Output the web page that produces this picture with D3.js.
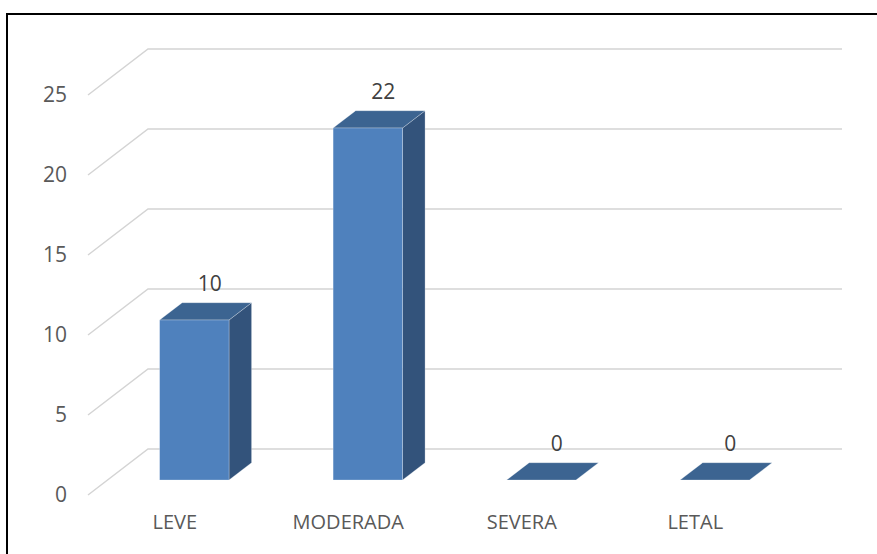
<!DOCTYPE html>
<html>
<head>
<meta charset="utf-8">
<script src="https://cdn.jsdelivr.net/npm/d3@7"></script>
<style>
  body { margin: 0; background: #fff; }
  text { font-family: "Open Sans", sans-serif; }
</style>
</head>
<body>
<div id="chart"></div>
<script>
// data
const categories = ["LEVE", "MODERADA", "SEVERA", "LETAL"];
const values = [10, 22, 0, 0];
const yTicks = [0, 5, 10, 15, 20, 25];

const width = 877, height = 554;
const depthX = 60, depthY = -46;   // full floor depth offset
const t0 = 0.326, t1 = 0.702;      // bar front / back inside depth

const svg = d3.select("#chart")
  .append("svg")
  .attr("width", width)
  .attr("height", height);

// frame
svg.append("path")
  .attr("d", "M7,554 V14 H877")
  .attr("fill", "none")
  .attr("stroke", "#000")
  .attr("stroke-width", 2);

const xScale = d3.scaleBand()
  .domain(categories)
  .range([88, 782])
  .padding(0);

const yScale = d3.scaleLinear()
  .domain([0, 25])
  .range([495, 95]);

// gridlines: diagonal on the floor side + back wall line
const grid = svg.append("g");
yTicks.forEach(v => {
  const y = yScale(v);
  grid.append("path")
    .attr("d", `M88,${y} L${88 + depthX},${y + depthY} L${782 + depthX},${y + depthY}`)
    .attr("fill", "none")
    .attr("stroke", "#d4d4d4")
    .attr("stroke-width", 1.5);
});

// y tick labels
svg.selectAll(".ytick")
  .data(yTicks)
  .join("text")
  .attr("class", "ytick")
  .attr("x", 67)
  .attr("y", d => yScale(d) + 1)
  .attr("text-anchor", "end")
  .attr("dominant-baseline", "middle")
  .attr("font-size", 21)
  .attr("fill", "#595959")
  .text(d => d);

const data = categories.map((c, i) => ({ cat: c, value: values[i] }));
const barW = xScale.bandwidth() * 0.4;
const dx0 = depthX * t0, dy0 = depthY * t0;
const dx1 = depthX * t1, dy1 = depthY * t1;

const bars = svg.selectAll(".bar")
  .data(data)
  .join("g")
  .attr("class", "bar");

const xl = d => xScale(d.cat) + (xScale.bandwidth() - barW) / 2;
const xr = d => xl(d) + barW;

// side face
bars.append("path")
  .attr("d", d => {
    const yv = yScale(d.value), y0 = yScale(0);
    return `M${xr(d) + dx0},${yv + dy0} L${xr(d) + dx1},${yv + dy1} L${xr(d) + dx1},${y0 + dy1} L${xr(d) + dx0},${y0 + dy0}Z`;
  })
  .attr("fill", "#33537b")
  .attr("stroke", "rgba(255,255,255,0.35)")
  .attr("stroke-width", 0.75);

// top face
bars.append("path")
  .attr("d", d => {
    const yv = yScale(d.value);
    return `M${xl(d) + dx0},${yv + dy0} L${xr(d) + dx0},${yv + dy0} L${xr(d) + dx1},${yv + dy1} L${xl(d) + dx1},${yv + dy1}Z`;
  })
  .attr("fill", "#3c6491")
  .attr("stroke", "rgba(255,255,255,0.35)")
  .attr("stroke-width", 0.75);

// front face
bars.append("rect")
  .attr("x", d => xl(d) + dx0)
  .attr("y", d => yScale(d.value) + dy0)
  .attr("width", barW)
  .attr("height", d => yScale(0) - yScale(d.value))
  .attr("fill", "#4f81bd")
  .attr("stroke", "rgba(255,255,255,0.35)")
  .attr("stroke-width", 0.75);

// value labels
svg.selectAll(".vlabel")
  .data(data)
  .join("text")
  .attr("class", "vlabel")
  .attr("x", d => xScale(d.cat) + xScale.bandwidth() / 2 + 35)
  .attr("y", d => yScale(d.value) + dy1 - 17)
  .attr("text-anchor", "middle")
  .attr("dominant-baseline", "middle")
  .attr("font-size", 21)
  .attr("fill", "#404040")
  .text(d => d.value);

// category labels
svg.selectAll(".xlabel")
  .data(categories)
  .join("text")
  .attr("class", "xlabel")
  .attr("x", d => xScale(d) + xScale.bandwidth() / 2)
  .attr("y", 524)
  .attr("text-anchor", "middle")
  .attr("dominant-baseline", "middle")
  .attr("font-size", 20)
  .attr("fill", "#595959")
  .text(d => d);
</script>
</body>
</html>
